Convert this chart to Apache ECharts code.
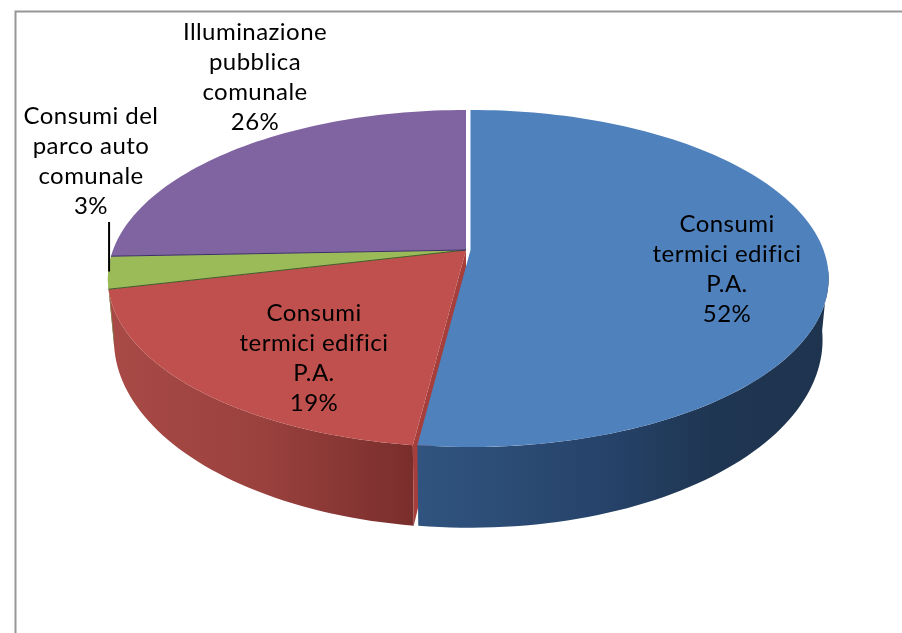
<!DOCTYPE html>
<html><head><meta charset="utf-8">
<style>html,body{margin:0;padding:0;background:#fff}#c{width:902px;height:633px}</style>
<script src="https://cdn.jsdelivr.net/npm/echarts@6/dist/echarts.min.js"></script>
</head><body><div id="c"></div>
<script>
const categories = ["Consumi\ntermici edifici\nP.A.", "Consumi\ntermici edifici\nP.A.", "Consumi del\nparco auto\ncomunale", "Illuminazione\npubblica\ncomunale"];
const values = [52, 19.3, 3.1, 25.6];

// layout and style
const colors = ["#4f81bd", "#c0504d", "#9bbb59", "#8064a2"];
const wallStops = [
  [[0, "#30547f"], [0.45, "#26436a"], [0.72, "#1f3652"], [1, "#1e334e"]],
  [[0, "#a94a46"], [0.5, "#9a413e"], [1, "#792e2c"]],
  [[0, "#7c8f50"], [1, "#7c8f50"]],
  null
];
const labelPos = [[727, 269], [314, 358], [91, 161], [255, 77]];
const shiftX = [4.5, 0, 0, 0];
const wallZ = [2.5, 1, 1, 1];
const FONT = "Lato";
const CX = 466, K = 0.169;
const topRim = { b: 353, a: 163.7, y0: 250 };
const lowRim = { b: 347, a: 182.6, y0: 308 };

// slightly open tracking for the label text (also keeps "fi" as two letters)
const nativeFillText = CanvasRenderingContext2D.prototype.fillText;
CanvasRenderingContext2D.prototype.fillText = function () {
  this.letterSpacing = "0.45px";
  return nativeFillText.apply(this, arguments);
};

function pt(g, deg, dx) {
  const t = deg * Math.PI / 180, X = Math.sin(t), Y = Math.cos(t), d = 1 + K * Y;
  return [CX + dx + g.b * X / d, g.y0 - g.a * Y / d];
}
function arc(g, a0, a1, dx) {
  const n = Math.max(2, Math.ceil(Math.abs(a1 - a0) / 1.5)), r = [];
  for (let i = 0; i <= n; i++) r.push(pt(g, a0 + (a1 - a0) * i / n, dx));
  return r;
}
const total = values.reduce((s, v) => s + v, 0);
let acc = 0;
const rows = values.map((v, i) => { const r = [v, acc, i]; acc += v; return r; });

function renderItem(params, api) {
  const v = api.value(0), i = api.value(2);
  const a0 = api.value(1) / total * 360, a1 = a0 + v / total * 360, dx = shiftX[i];
  const kids = [];
  const w0 = Math.max(a0, 97), w1 = Math.min(a1, 261);
  if (w1 > w0 && wallStops[i]) {
    kids.push({ type: "polygon", z2: wallZ[i],
      shape: { points: arc(topRim, w0, w1, dx).concat(arc(lowRim, w1, w0, dx)) },
      style: { fill: { type: "linear", x: 0, y: 0, x2: 1, y2: 0, global: false,
        colorStops: wallStops[i].map(s => ({ offset: s[0], color: s[1] })) } } });
  }
  if (i === 1) {
    kids.push({ type: "polygon", z2: 2,
      shape: { points: [[CX, topRim.y0], pt(topRim, a0, 0), pt(lowRim, a0, 0), [CX, lowRim.y0]] },
      style: { fill: "#a63f3c" } });
  }
  kids.push({ type: "polygon", z2: 3,
    shape: { points: [[CX + dx, topRim.y0]].concat(arc(topRim, a0, a1, dx)) },
    style: { fill: colors[i] } });
  if (i === 2) {
    [a0, a1].forEach(a => kids.push({ type: "line", z2: 4,
      shape: { x1: CX, y1: topRim.y0, x2: pt(topRim, a, 0)[0], y2: pt(topRim, a, 0)[1] },
      style: { stroke: a === a0 ? "#3f5a2a" : "#3c2f66", lineWidth: 1 } }));
    const p = pt(topRim, (a0 + a1) / 2, 0);
    kids.push({ type: "line", z2: 6,
      shape: { x1: p[0] + 1, y1: 222, x2: p[0] + 1, y2: p[1] - 1 },
      style: { stroke: "#000", lineWidth: 2 } });
  }
  kids.push({ type: "text", z2: 7,
    style: { text: categories[i] + "\n" + Math.round(v) + "%", x: labelPos[i][0], y: labelPos[i][1],
      align: "center", verticalAlign: "middle", fill: "#000",
      font: "24px " + FONT, lineHeight: 30 } });
  return { type: "group", children: kids };
}

const chart = echarts.init(document.getElementById("c"), null, { renderer: "canvas" });
chart.setOption({
  animation: false,
  backgroundColor: "#fff",
  graphic: [{ type: "rect", z: 0, silent: true,
    shape: { x: 15.5, y: 11.5, width: 1000, height: 1000 },
    style: { fill: "none", stroke: "#969696", lineWidth: 2 } }],
  series: [{ type: "custom", coordinateSystem: "none", silent: true, clip: false,
    data: rows, renderItem: renderItem }]
});
</script></body></html>
